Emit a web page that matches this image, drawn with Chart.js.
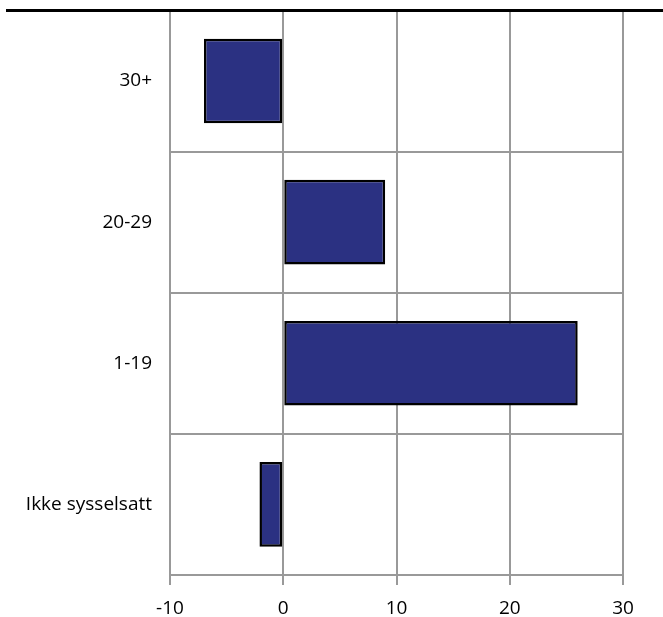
<!DOCTYPE html>
<html>
<head>
<meta charset="utf-8">
<script src="https://cdn.jsdelivr.net/npm/chart.js@4"></script>
<style>
  body { margin: 0; background: #fff; }
  #wrap { position: relative; width: 663px; height: 617px; overflow: hidden; }
  #rule { position: absolute; left: 6px; top: 9px; width: 657px; height: 3px; background: #000; z-index: 2; }
  #chart { position: absolute; left: 0; top: -19px; }
</style>
</head>
<body>
<div id="wrap">
  <div id="rule"></div>
  <canvas id="chart" width="663" height="636"></canvas>
</div>
<script>
// Categories, top to bottom
const categories = ['30+', '20-29', '1-19', 'Ikke sysselsatt'];
// Change per group
const changeValues = [-7, 9, 26, -2.1];
// X axis ticks
const xMin = -10;
const xMax = 30;
const xStep = 10;

const ctx = document.getElementById('chart').getContext('2d');

new Chart(ctx, {
    type: 'bar',
    data: {
        labels: categories,
        datasets: [{
            data: changeValues,
            backgroundColor: '#2b3182',
            borderColor: '#000',
            borderWidth: 2.5,
            borderSkipped: false,
            barPercentage: 0.6,
            categoryPercentage: 1
        }]
    },
    options: {
        indexAxis: 'y',
        responsive: false,
        animation: false,
        layout: { padding: { top: 10, right: 40, left: 0, bottom: 0 } },
        plugins: {
            legend: { display: false },
            tooltip: { enabled: false }
        },
        scales: {
            x: {
                min: xMin,
                max: xMax,
                ticks: {
                    stepSize: xStep,
                    color: '#000',
                    padding: 12,
                    font: { family: 'Open Sans', size: 19 }
                },
                grid: { color: '#999', lineWidth: 2, tickLength: 10 },
                border: { color: '#999', width: 2 },
                afterFit: function(axis) { axis.height = 42; }
            },
            y: {
                offset: true,
                ticks: {
                    color: '#000',
                    padding: 18,
                    font: { family: 'Open Sans', size: 19 }
                },
                grid: { offset: true, color: '#999', lineWidth: 2, drawTicks: false },
                border: { display: false },
                afterFit: function(axis) { axis.width = 170; }
            }
        }
    }
});
</script>
</body>
</html>
